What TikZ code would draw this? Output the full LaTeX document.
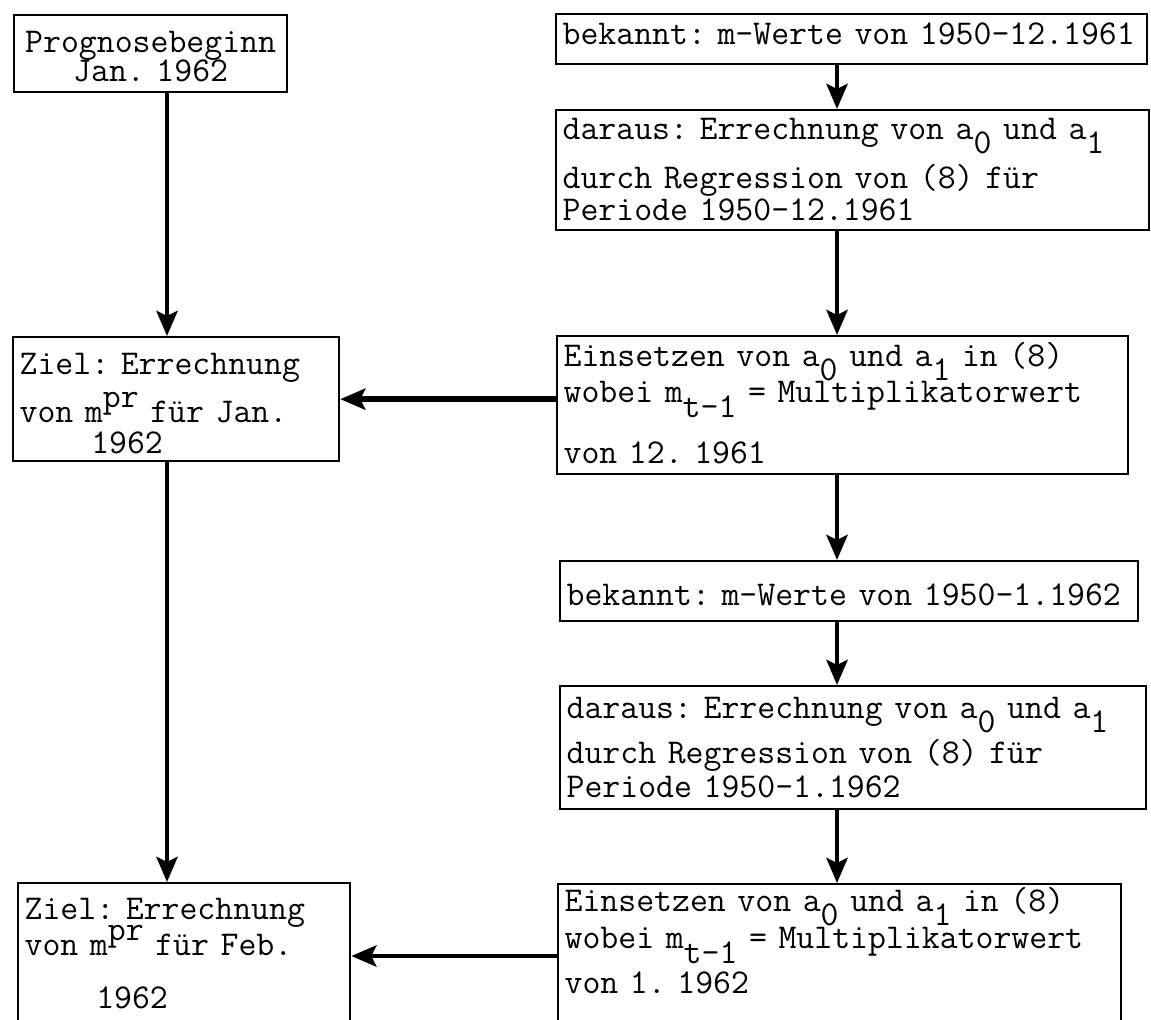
\documentclass[tikz,border=0pt]{standalone}
\usepackage{tikz}
\usetikzlibrary{arrows.meta}
\newcommand{\px}{0.02}
\newcommand{\subtt}[1]{\smash{\raisebox{-0.42em}{#1}}}
\newcommand{\suptt}[1]{\smash{\raisebox{0.45em}{#1}}}
\newcommand{\flowbox}[8]{%
    \pgfmathsetmacro{\boxw}{(#4-#2)*\px}%
    \pgfmathsetmacro{\boxtw}{(#4-#2)*\px-0.26}%
    \pgfmathsetmacro{\boxht}{(#6-#3)*\px}%
    \pgfmathsetmacro{\boxdp}{(#5-#6)*\px}%
    \node[box, anchor=north west, align=#7, minimum width=\boxw cm, text width=\boxtw cm,
        text height=\boxht cm, text depth=\boxdp cm] (#1) at (#2,#3) {#8};}
\tikzset{
    box/.style={draw, line width=1.3pt, inner xsep=0.13cm, inner ysep=0pt,
        font=\fontsize{19.8}{19.8}\selectfont\ttfamily\frenchspacing},
    flow/.style={line width=2.8pt, -{Stealth[length=0.5cm,width=0.42cm,inset=0.1cm]}}
}
\begin{document}
\begin{tikzpicture}[x=\px cm, y=-\px cm]
    \useasboundingbox (0,0) rectangle (1151,1019);
    \clip (0,0) rectangle (1151,1019);

    \flowbox{start}{13}{14}{286}{91}{51}{center}{Prognosebeginn\\[-0.1cm] Jan. 1962}
    \flowbox{known1}{555}{13}{1146}{63}{43}{left}{bekannt: m-Werte von 1950-12.1961}
    \flowbox{regr1}{555}{109}{1148}{229}{138}{left}{daraus: Errechnung von a\subtt{0} und a\subtt{1}\\[0.3cm]
        durch Regression von (8) für\\[-0.06cm] Periode 1950-12.1961}
    \flowbox{insert1}{556}{335}{1127}{473}{365}{left}{Einsetzen von a\subtt{0} und a\subtt{1} in (8)\\[0.04cm]
        wobei m\subtt{t-1} = Multiplikatorwert\\[0.52cm] von 12. 1961}
    \flowbox{goal1}{12}{336}{338}{460}{373}{left}{Ziel: Errechnung\\[0.28cm]
        von m\suptt{pr} für Jan.\\[-0.08cm] \phantom{0000}1962}
    \flowbox{known2}{559}{560}{1137}{620}{604}{left}{bekannt: m-Werte von 1950-1.1962}
    \flowbox{regr2}{559}{685}{1145}{808}{717}{left}{daraus: Errechnung von a\subtt{0} und a\subtt{1}\\[0.22cm]
        durch Regression von (8) für\\[-0.02cm] Periode 1950-1.1962}
    \flowbox{insert2}{557}{883}{1120}{1040}{910}{left}{Einsetzen von a\subtt{0} und a\subtt{1} in (8)\\[0.06cm]
        wobei m\subtt{t-1} = Multiplikatorwert\\[0.2cm] von 1. 1962}
    \flowbox{goal2}{17}{882}{349}{1040}{918}{left}{Ziel: Errechnung\\[0.04cm]
        von m\suptt{pr} für Feb.\\[0.36cm] \phantom{0000}1962}

    \coordinate (lcol) at (167,0);
    \coordinate (rcol) at (837,0);
    \coordinate (row) at (0,956);

    \draw[flow] (start.south -| lcol) -- (goal1.north -| lcol);
    \draw[flow] (goal1.south -| lcol) -- (goal2.north -| lcol);
    \draw[flow] (known1.south -| rcol) -- (regr1.north -| rcol);
    \draw[flow] (regr1.south -| rcol) -- (insert1.north -| rcol);
    \draw[flow] (insert1.south -| rcol) -- (known2.north -| rcol);
    \draw[flow] (known2.south -| rcol) -- (regr2.north -| rcol);
    \draw[flow] (regr2.south -| rcol) -- (insert2.north -| rcol);
    \draw[flow, line width=3.4pt] (insert1.west |- goal1.east) -- (goal1.east);
    \draw[flow] (insert2.west |- row) -- (goal2.east |- row);
\end{tikzpicture}
\end{document}
